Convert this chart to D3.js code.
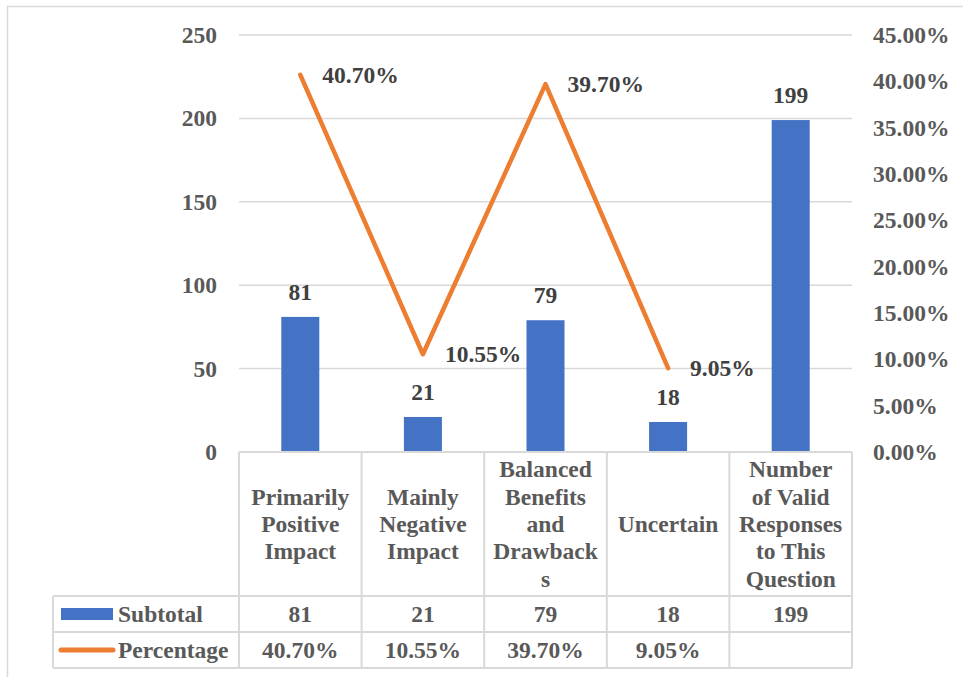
<!DOCTYPE html>
<html>
<head>
<meta charset="utf-8">
<script src="https://cdn.jsdelivr.net/npm/d3@7"></script>
<style>
  html, body { margin: 0; padding: 0; background: #ffffff; }
  svg { display: block; }
  text { font-family: "Liberation Serif", "Times New Roman", serif; font-weight: bold; }
</style>
</head>
<body>
<svg id="chart" width="963" height="677"></svg>
<script>
// Survey responses: counts per answer and share of valid responses
const categories = [
  "Primarily Positive Impact",
  "Mainly Negative Impact",
  "Balanced Benefits and Drawbacks",
  "Uncertain",
  "Number of Valid Responses to This Question"
];
// Wrapped category lines as laid out in the table header
const categoryLines = [
  ["Primarily", "Positive", "Impact"],
  ["Mainly", "Negative", "Impact"],
  ["Balanced", "Benefits", "and", "Drawback", "s"],
  ["Uncertain"],
  ["Number", "of Valid", "Responses", "to This", "Question"]
];
const subtotal = [81, 21, 79, 18, 199];
const percentage = [0.4070, 0.1055, 0.3970, 0.0905, null];
const leftTicks = [0, 50, 100, 150, 200, 250];
const rightTicks = [0, 0.05, 0.10, 0.15, 0.20, 0.25, 0.30, 0.35, 0.40, 0.45];
const seriesNames = ["Subtotal", "Percentage"];

const BLUE = "#4472C4", ORANGE = "#ED7D31";
const AXIS_TXT = "#595959", LABEL_TXT = "#404040", GRID = "#d9d9d9";
const FS = 23.5;

const svg = d3.select("#chart");
const plot = { left: 239, right: 852, top: 35, bottom: 452 };
const rowTops = [452, 596, 632, 668];
const tableLeft = 53;

const x = d3.scaleBand().domain(categories).range([plot.left, plot.right]).padding(0);
const yL = d3.scaleLinear().domain([0, 250]).range([plot.bottom, plot.top]);
const yR = d3.scaleLinear().domain([0, 0.45]).range([plot.bottom, plot.top]);
const pct = d3.format(".2%");
const barW = x.bandwidth() * 0.31;

// Outer chart frame (open on the right and bottom)
svg.append("path")
  .attr("d", "M7.5,677 L7.5,6.5 L963,6.5")
  .attr("fill", "none").attr("stroke", GRID).attr("stroke-width", 1.5);

// Gridlines
svg.append("g").selectAll("line").data(leftTicks.filter(d => d > 0)).join("line")
  .attr("x1", plot.left).attr("x2", plot.right)
  .attr("y1", d => yL(d)).attr("y2", d => yL(d))
  .attr("stroke", GRID).attr("stroke-width", 1.5);

// Left axis
const leftAxis = svg.append("g")
  .attr("transform", `translate(${plot.left - 22},0)`)
  .call(d3.axisLeft(yL).tickValues(leftTicks).tickSize(0).tickPadding(0).tickFormat(d3.format("d")));
leftAxis.select(".domain").remove();
leftAxis.selectAll("text")
  .attr("fill", AXIS_TXT).attr("font-size", FS)
  .attr("font-family", "Liberation Serif").attr("font-weight", "bold");

// Right axis
const rightAxis = svg.append("g")
  .attr("transform", `translate(${plot.right + 21},0)`)
  .call(d3.axisRight(yR).tickValues(rightTicks).tickSize(0).tickPadding(0).tickFormat(pct));
rightAxis.select(".domain").remove();
rightAxis.selectAll("text")
  .attr("fill", AXIS_TXT).attr("font-size", FS)
  .attr("font-family", "Liberation Serif").attr("font-weight", "bold");

// Bars
svg.append("g").selectAll("rect").data(subtotal).join("rect")
  .attr("x", (d, i) => x(categories[i]) + x.bandwidth() / 2 - barW / 2)
  .attr("y", d => yL(d))
  .attr("width", barW)
  .attr("height", d => yL(0) - yL(d))
  .attr("fill", BLUE);

// Bar value labels
svg.append("g").selectAll("text").data(subtotal).join("text")
  .attr("x", (d, i) => x(categories[i]) + x.bandwidth() / 2)
  .attr("y", d => yL(d) - 17)
  .attr("text-anchor", "middle")
  .attr("fill", LABEL_TXT).attr("font-size", FS)
  .text(d => d);

// Percentage line
const pts = percentage.map((v, i) => ({ v, cx: x(categories[i]) + x.bandwidth() / 2 })).filter(p => p.v !== null);
svg.append("path")
  .datum(pts)
  .attr("d", d3.line().x(p => p.cx).y(p => yR(p.v)))
  .attr("fill", "none").attr("stroke", ORANGE).attr("stroke-width", 4.5)
  .attr("stroke-linejoin", "round").attr("stroke-linecap", "round");

// Percentage labels to the right of each point
svg.append("g").selectAll("text").data(pts).join("text")
  .attr("x", p => p.cx + 22)
  .attr("y", p => yR(p.v) + 8)
  .attr("fill", LABEL_TXT).attr("font-size", FS)
  .text(p => pct(p.v));

// Data table grid
const grid = svg.append("g").attr("stroke", GRID).attr("stroke-width", 2).attr("fill", "none");
// horizontal lines
grid.append("line").attr("x1", plot.left).attr("x2", plot.right).attr("y1", rowTops[0]).attr("y2", rowTops[0]);
[1, 2, 3].forEach(r => {
  grid.append("line").attr("x1", tableLeft).attr("x2", plot.right).attr("y1", rowTops[r]).attr("y2", rowTops[r]);
});
// vertical lines
grid.append("line").attr("x1", tableLeft).attr("x2", tableLeft).attr("y1", rowTops[1]).attr("y2", rowTops[3]);
categories.forEach(c => {
  grid.append("line").attr("x1", x(c)).attr("x2", x(c)).attr("y1", rowTops[0]).attr("y2", rowTops[3]);
});
grid.append("line").attr("x1", plot.right).attr("x2", plot.right).attr("y1", rowTops[0]).attr("y2", rowTops[3]);

// Category header cells
const lineH = 27.3;
const headerMid = (rowTops[0] + rowTops[1]) / 2;
const hdr = svg.append("g").selectAll("text").data(categoryLines).join("text")
  .attr("text-anchor", "middle")
  .attr("fill", AXIS_TXT).attr("font-size", FS);
hdr.each(function(lines, i) {
  const cx = x(categories[i]) + x.bandwidth() / 2;
  const y0 = headerMid - (lines.length - 1) * lineH / 2 + 8;
  d3.select(this).selectAll("tspan").data(lines).join("tspan")
    .attr("x", cx).attr("y", (l, j) => y0 + j * lineH).text(l => l);
});

// Table value rows
const rowsData = [subtotal.map(d => d), percentage.map(v => v === null ? "" : pct(v))];
rowsData.forEach((row, r) => {
  const ymid = (rowTops[r + 1] + rowTops[r + 2]) / 2;
  svg.append("g").selectAll("text").data(row).join("text")
    .attr("x", (d, i) => x(categories[i]) + x.bandwidth() / 2)
    .attr("y", ymid + 8)
    .attr("text-anchor", "middle")
    .attr("fill", AXIS_TXT).attr("font-size", FS)
    .text(d => d);
});

// Legend keys with series names
const r1 = (rowTops[1] + rowTops[2]) / 2, r2 = (rowTops[2] + rowTops[3]) / 2;
svg.append("rect").attr("x", 61).attr("y", r1 - 6).attr("width", 52).attr("height", 12).attr("fill", BLUE);
svg.append("line").attr("x1", 61).attr("x2", 113).attr("y1", r2).attr("y2", r2)
  .attr("stroke", ORANGE).attr("stroke-width", 5).attr("stroke-linecap", "round");
svg.append("g").selectAll("text").data(seriesNames).join("text")
  .attr("x", 118)
  .attr("y", (d, i) => (i === 0 ? r1 : r2) + 8)
  .attr("fill", AXIS_TXT).attr("font-size", FS)
  .text(d => d);
</script>
</body>
</html>
